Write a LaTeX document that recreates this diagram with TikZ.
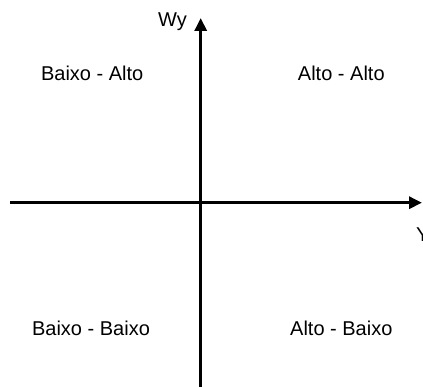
\documentclass[tikz,border=0pt]{standalone}
\usepackage{fontspec}
\setmainfont{Liberation Sans}
\usetikzlibrary{arrows.meta}
\begin{document}
\begin{tikzpicture}[x=1pt,y=1pt,
  axis/.style={line width=3pt,-{Triangle[length=13pt,width=12pt]}},
  lbl/.style={inner sep=0pt,anchor=base,font=\fontsize{20}{22}\selectfont}]
\useasboundingbox (0,0) rectangle (423,386);
\coordinate (xl) at (10,183.3);
\coordinate (xr) at (422,183.3);
\coordinate (yb) at (200.7,-2);
\coordinate (yt) at (200.7,368);
\draw[axis] (xl) -- (xr);
\draw[axis] (yb) -- (yt);
\node[lbl] (wy) at (172.5,359.5) {Wy};
\node[lbl,anchor=base west] (y) at (416,145) {Y};
\node[lbl] (ba) at (92.2,305.3) {Baixo - Alto};
\node[lbl] (aa) at (341.3,305.3) {Alto - Alto};
\node[lbl] (bb) at (91,50.3) {Baixo - Baixo};
\node[lbl] (ab) at (341.3,50.3) {Alto - Baixo};
\end{tikzpicture}
\end{document}
